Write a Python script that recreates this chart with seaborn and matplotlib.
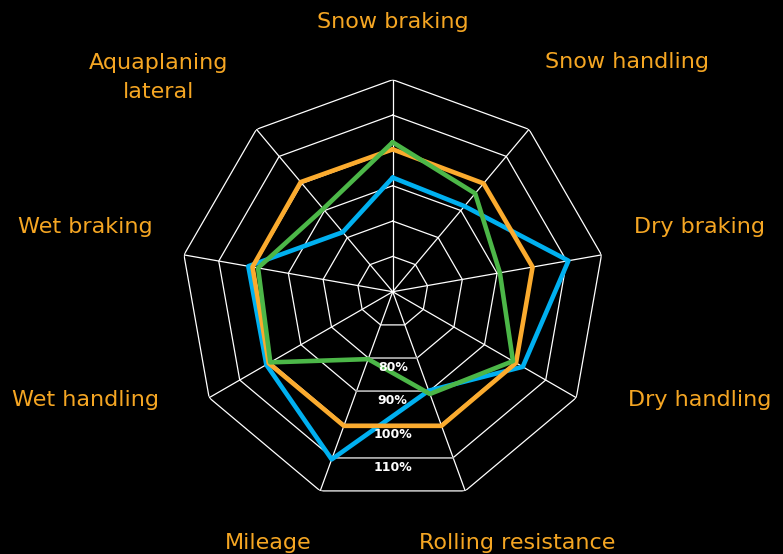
import numpy as np
import pandas as pd
import seaborn as sns
import matplotlib.pyplot as plt

sns.set_style('dark')
plt.rcParams['font.family'] = ['DejaVu Sans']

# data
categories = ['Snow braking', 'Snow handling', 'Dry braking', 'Dry handling',
              'Rolling resistance', 'Mileage', 'Wet handling', 'Wet braking',
              'Aquaplaning\nlateral']
blue = [92.3, 91.6, 110.5, 102.5, 89.8, 110.5, 101.3, 101.5, 82.0]
orange = [100.3, 100.0, 100.2, 100.3, 100.4, 100.4, 100.5, 100.3, 100.5]
green = [102.3, 96.3, 90.8, 99.3, 90.8, 80.3, 100.0, 98.7, 90.6]
ring_values = [70, 80, 90, 100, 110, 120]
label_values = [80, 90, 100, 110]
ring_labels = ['80%', '90%', '100%', '110%']

colors = {'blue': '#00b0f0', 'orange': '#fbab2e', 'green': '#4cb748'}
text_color = '#f5a623'

n = len(categories)
angles = np.linspace(0, 2 * np.pi, n, endpoint=False)

rows = []
for name, vals in [('blue', blue), ('orange', orange), ('green', green)]:
    for i in list(range(n)) + [0]:
        rows.append({'series': name, 'theta': angles[i], 'value': vals[i]})
df = pd.DataFrame(rows)

fig = plt.figure(figsize=(7.83, 5.54), dpi=100, facecolor='black')
ax = fig.add_axes([0.2308, 0.0908, 0.5415, 0.7653], projection='polar')
ax.set_facecolor('black')
ax.set_theta_zero_location('N')
ax.set_theta_direction(-1)
ax.set_ylim(60, 120)
ax.grid(False)
ax.set_xticks([])
ax.set_yticks([])
ax.spines['polar'].set_visible(False)

# polygon grid
closed = np.append(angles, angles[0])
for rv in ring_values:
    ax.plot(closed, [rv] * (n + 1), color='white', lw=0.9, zorder=1)
for a in angles:
    ax.plot([a, a], [60, 120], color='white', lw=0.9, zorder=1)
# bottom edges under the percentage labels are grey
for v in label_values:
    ax.plot([angles[4], angles[5]], [v, v], color='#9a9a9a', lw=1.2, zorder=2)

sns.lineplot(data=df, x='theta', y='value', hue='series', palette=colors,
             sort=False, estimator=None, units='series', lw=3.3,
             legend=False, ax=ax, zorder=3)
ax.set_xlabel('')
ax.set_ylabel('')

# percentage labels along the bottom
for v, lab in zip(label_values, ring_labels):
    r = 60 + (v - 60) * np.cos(np.pi / 9) + 2.7
    ax.text(np.pi, r, lab, color='white', fontsize=9, fontweight='bold',
            ha='center', va='center', zorder=4)

# category labels
label_pos = [(0, 136.4), (45.5, 152.8), (78.1, 148.7), (109.4, 152.1),
             (153.6, 139.4), (206.4, 139.4), (250.6, 152.2), (281.9, 148.8),
             (312.5, 149.9)]
for cat, (deg, r) in zip(categories, label_pos):
    ax.text(np.deg2rad(deg), r, cat, color=text_color, fontsize=16,
            ha='center', va='center', linespacing=1.55, clip_on=False)

fig.savefig('out.png', dpi=100, facecolor='black')
